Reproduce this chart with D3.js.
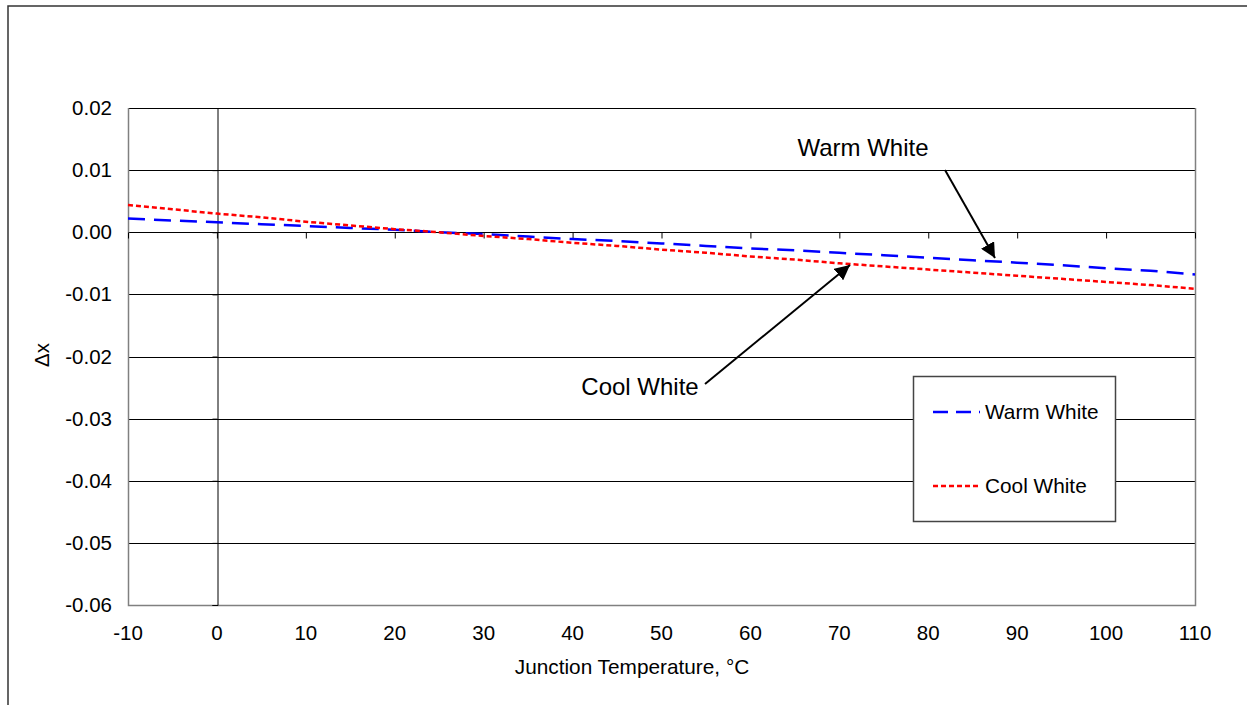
<!DOCTYPE html>
<html>
<head>
<meta charset="utf-8">
<script src="https://cdn.jsdelivr.net/npm/d3@7"></script>
<style>
  html, body { margin: 0; padding: 0; background: #fff; }
  svg { display: block; }
  text { font-family: "Liberation Sans", Arial, sans-serif; fill: #000; }
</style>
</head>
<body>
<svg id="chart" width="1247" height="705"></svg>
<script>
// ---- data ----
const temperatures = [-10, -5, 0, 5, 10, 15, 20, 25, 30, 35, 40, 45, 50, 55, 60, 65, 70, 75, 80, 85, 90, 95, 100, 105, 110];
const warmWhite = [0.0022, 0.0019, 0.0016, 0.0013, 0.0010, 0.0007, 0.0004, 0.0000, -0.0003, -0.0007, -0.0011, -0.0014, -0.0018, -0.0022, -0.0026, -0.0029, -0.0033, -0.0037, -0.0041, -0.0045, -0.0049, -0.0053, -0.0058, -0.0062, -0.0068];
const coolWhite = [0.0044, 0.0037, 0.0030, 0.0024, 0.0017, 0.0011, 0.0005, 0.0000, -0.0006, -0.0011, -0.0017, -0.0022, -0.0028, -0.0033, -0.0039, -0.0044, -0.0050, -0.0055, -0.0060, -0.0065, -0.0070, -0.0075, -0.0080, -0.0085, -0.0091];
const xTicks = [-10, 0, 10, 20, 30, 40, 50, 60, 70, 80, 90, 100, 110];
const yTicks = [0.02, 0.01, 0.00, -0.01, -0.02, -0.03, -0.04, -0.05, -0.06];
const seriesNames = ["Warm White", "Cool White"];
const xTitle = "Junction Temperature, °C";
const yTitle = "Δx";

// ---- layout ----
const svg = d3.select("#chart");
const x = d3.scaleLinear().domain([-10, 110]).range([128, 1195]);
const y = d3.scaleLinear().domain([-0.06, 0.02]).range([605, 108]);

// outer frame
svg.append("rect").attr("x", 8).attr("y", 6).attr("width", 1260).attr("height", 720)
  .attr("fill", "none").attr("stroke", "#333").attr("stroke-width", 1.5);

// gridlines
svg.append("g").selectAll("line").data(yTicks).join("line")
  .attr("x1", x(-10)).attr("x2", x(110))
  .attr("y1", d => Math.round(y(d)) + 0.5).attr("y2", d => Math.round(y(d)) + 0.5)
  .attr("stroke", "#000").attr("stroke-width", 1);

// plot border (left, bottom, right) gray
svg.append("path")
  .attr("d", `M${x(-10)+0.5},${y(0.02)} V${Math.round(y(-0.06))+0.5} H${x(110)+0.5} V${y(0.02)}`)
  .attr("fill", "none").attr("stroke", "#808080").attr("stroke-width", 1.5);

// vertical axis at x = 0
const yAxis = d3.axisLeft(y).tickValues(yTicks).tickSize(5).tickFormat("");
svg.append("g").attr("transform", `translate(${Math.round(x(0))+0.5},0)`).call(yAxis)
  .call(g => g.selectAll("line,path").attr("stroke", "#000"));

// horizontal axis at y = 0
const xAxis = d3.axisBottom(x).tickValues(xTicks).tickSize(6).tickFormat("");
svg.append("g").attr("transform", `translate(0,${Math.round(y(0))+0.5})`).call(xAxis)
  .call(g => g.select("path").remove())
  .call(g => g.selectAll("line").attr("stroke", "#000"));

// y tick labels
svg.append("g").selectAll("text").data(yTicks).join("text")
  .attr("x", 112).attr("y", d => y(d) + 7)
  .attr("text-anchor", "end").attr("font-size", 20.5)
  .text(d => d3.format(".2f")(d).replace("−", "-"));

// x tick labels
svg.append("g").selectAll("text").data(xTicks).join("text")
  .attr("x", d => x(d)).attr("y", 640)
  .attr("text-anchor", "middle").attr("font-size", 20.5)
  .text(d => d);

// axis titles
svg.append("text").attr("x", 632).attr("y", 674).attr("text-anchor", "middle")
  .attr("font-size", 20.8).text(xTitle);
svg.append("text").attr("transform", "translate(49,355) rotate(-90)")
  .attr("text-anchor", "middle").attr("font-size", 20.5).text(yTitle);

// lines
const line = d3.line().x((d, i) => x(temperatures[i])).y(d => y(d));
svg.append("path").datum(warmWhite).attr("d", line)
  .attr("fill", "none").attr("stroke", "#0000ff").attr("stroke-width", 2.5)
  .attr("stroke-dasharray", "17,9");
svg.append("path").datum(coolWhite).attr("d", line)
  .attr("fill", "none").attr("stroke", "#ff0000").attr("stroke-width", 2.5)
  .attr("stroke-dasharray", "5,3");

// annotations with arrows
const defs = svg.append("defs");
defs.append("marker").attr("id", "arrow").attr("viewBox", "0 0 10 10")
  .attr("refX", 10).attr("refY", 5).attr("markerWidth", 7.5).attr("markerHeight", 7.5)
  .attr("markerUnits", "strokeWidth").attr("orient", "auto")
  .append("path").attr("d", "M0,0 L10,5 L0,10 Z").attr("fill", "#000");

svg.append("text").attr("x", 863).attr("y", 156).attr("text-anchor", "middle")
  .attr("font-size", 24).text(seriesNames[0]);
svg.append("line").attr("x1", 945).attr("y1", 170).attr("x2", 995).attr("y2", 258)
  .attr("stroke", "#000").attr("stroke-width", 2).attr("marker-end", "url(#arrow)");

svg.append("text").attr("x", 640).attr("y", 395).attr("text-anchor", "middle")
  .attr("font-size", 24).text(seriesNames[1]);
svg.append("line").attr("x1", 705).attr("y1", 384).attr("x2", 850).attr("y2", 265)
  .attr("stroke", "#000").attr("stroke-width", 2).attr("marker-end", "url(#arrow)");

// legend
const lg = svg.append("g");
lg.append("rect").attr("x", 913.5).attr("y", 376.5).attr("width", 202).attr("height", 145)
  .attr("fill", "#fff").attr("stroke", "#444").attr("stroke-width", 1.5);
const legendItems = [
  { name: seriesNames[0], color: "#0000ff", dash: "15,8", yy: 412 },
  { name: seriesNames[1], color: "#ff0000", dash: "5,3", yy: 486 }
];
legendItems.forEach(it => {
  lg.append("line").attr("x1", 933).attr("x2", 980).attr("y1", it.yy).attr("y2", it.yy)
    .attr("stroke", it.color).attr("stroke-width", 2.5).attr("stroke-dasharray", it.dash);
  lg.append("text").attr("x", 985).attr("y", it.yy + 7).attr("font-size", 20.8).text(it.name);
});
</script>
</body>
</html>
